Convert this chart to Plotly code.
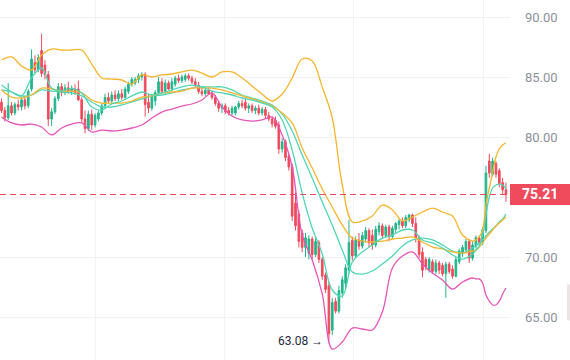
import plotly.graph_objects as go

# ---------------- data ----------------
candle_idx = list(range(152))
opens = [82.9,82.2,81.6,82.6,82.0,82.7,82.5,83.1,82.6,84.0,86.2,85.6,87.2,86.0,85.2,81.5,82.1,83.2,84.2,83.7,
         84.1,83.8,84.0,84.0,83.1,81.5,80.7,81.9,81.0,81.5,82.0,82.6,83.3,83.0,83.5,83.2,83.6,83.3,83.8,84.4,
         84.5,84.8,85.0,85.2,82.9,82.4,83.0,83.7,84.6,83.8,84.5,84.0,84.4,84.9,84.7,84.8,85.1,84.9,84.6,84.3,
         83.8,83.6,83.9,83.6,83.3,82.8,82.4,82.6,82.2,82.0,82.0,82.5,82.8,82.9,82.4,82.6,82.2,82.4,82.0,82.3,
         81.8,81.5,81.4,81.0,79.0,79.6,78.4,77.5,74.5,73.6,72.0,70.8,70.3,71.5,70.2,71.2,69.8,68.5,67.6,63.9,
         66.3,65.5,67.0,67.8,68.9,71.4,70.1,71.4,70.9,71.5,72.2,71.8,71.0,72.1,72.6,71.8,72.5,71.7,72.3,72.7,
         73.0,72.6,73.1,73.5,72.8,71.6,70.4,69.8,68.9,69.6,68.8,69.5,69.3,68.6,69.4,69.0,68.4,69.6,70.3,70.6,
         71.3,69.9,70.9,71.6,71.2,72.2,78.0,76.9,77.8,77.2,76.2,75.6]
highs = [83.2,82.5,84.5,82.9,82.9,83.1,83.3,83.4,84.0,87.3,86.8,86.9,88.6,86.4,85.5,82.4,83.4,84.5,84.5,84.4,
         84.6,84.3,84.4,84.7,83.3,82.2,82.2,82.3,82.0,82.2,82.8,83.6,83.7,83.8,83.9,83.9,84.0,84.2,84.6,85.0,
         85.0,85.3,85.4,85.4,83.6,83.6,83.9,85.0,84.9,84.8,84.7,84.9,85.1,85.2,85.2,85.3,85.3,85.1,84.9,84.6,
         84.2,84.0,84.1,83.9,83.5,83.0,82.8,82.8,82.5,82.6,82.6,83.0,83.1,83.3,82.8,82.8,82.6,82.7,82.5,82.5,
         82.1,81.7,81.7,81.3,79.9,79.8,78.6,77.8,75.4,73.9,72.3,72.0,71.8,71.7,71.6,71.4,70.0,68.7,67.9,66.6,
         66.6,67.6,68.4,69.4,73.1,71.7,71.7,72.0,72.1,72.5,72.4,72.3,72.6,72.9,72.8,72.7,72.7,72.6,72.9,73.2,
         73.3,73.5,73.6,73.6,73.3,71.8,70.8,70.0,70.0,69.8,69.8,69.7,69.5,69.6,69.6,69.3,70.0,70.7,71.0,71.5,
         71.5,71.3,71.8,71.8,72.5,77.6,78.6,78.3,78.0,77.4,76.6,76.2]
lows = [82.0,81.3,81.4,81.8,81.8,82.2,82.2,82.3,82.4,83.8,85.3,85.4,85.0,84.8,80.9,80.9,81.9,83.0,83.4,83.5,
        83.6,83.5,83.5,83.0,81.2,80.3,80.5,80.6,80.8,81.3,81.8,82.4,82.8,82.8,83.0,83.0,83.1,83.1,83.6,84.2,
        84.3,84.5,84.7,81.7,82.0,82.2,82.6,83.5,83.6,83.6,83.9,83.8,84.2,84.5,84.5,84.6,84.7,84.4,84.1,83.6,
        83.4,83.4,83.5,83.1,82.6,82.1,82.0,81.9,81.8,81.8,81.8,82.3,82.4,82.2,82.0,82.0,81.9,81.8,81.8,81.5,
        81.3,80.8,80.7,78.6,78.7,78.0,77.2,73.0,72.2,70.8,70.4,70.0,69.8,69.8,70.0,69.5,68.1,67.0,63.08,63.5,
        65.3,65.3,66.6,67.4,68.6,69.7,69.9,70.6,70.7,71.2,70.8,70.6,70.8,71.8,71.5,71.6,71.3,71.5,72.0,72.3,
        72.4,72.4,72.9,72.5,71.2,69.9,68.3,68.9,68.7,68.6,68.6,68.6,68.4,66.6,68.6,68.2,68.3,69.4,70.0,70.4,
        69.5,69.7,70.7,71.0,71.0,72.0,76.6,76.7,76.6,75.8,75.2,74.6]
closes = [82.2,81.6,82.6,82.0,82.7,82.5,83.1,82.6,83.8,86.5,85.6,86.6,85.3,85.2,81.5,82.1,83.2,84.2,83.7,84.1,
          83.8,84.0,83.7,83.1,81.5,80.7,81.9,81.0,81.8,82.0,82.6,83.3,83.0,83.5,83.2,83.6,83.3,84.0,84.4,84.8,
          84.8,85.1,85.2,82.7,82.4,83.4,83.7,84.6,83.8,84.5,84.0,84.6,84.9,84.7,85.0,85.1,84.9,84.6,84.3,83.8,
          83.6,83.9,83.6,83.3,82.8,82.4,82.6,82.1,82.0,82.4,82.5,82.8,82.6,82.4,82.6,82.2,82.4,82.0,82.3,81.8,
          81.5,81.1,80.9,79.0,79.6,78.3,77.5,73.4,72.6,71.3,70.8,71.6,71.5,70.2,71.3,69.8,68.4,67.3,63.6,66.2,
          65.5,67.2,68.1,69.1,71.2,70.1,71.4,70.9,71.8,72.2,71.2,71.0,72.3,72.6,71.8,72.5,71.7,72.4,72.8,73.0,
          72.6,73.3,73.5,72.8,71.6,70.2,68.9,69.2,69.8,68.8,69.5,68.9,68.6,69.4,68.8,68.4,69.8,70.5,70.8,71.3,
          69.9,71.0,71.6,71.2,72.3,77.0,77.0,78.0,76.9,76.1,75.6,75.21]

line_idx = [0,3,6,9,12,15,18,21,24,27,30,33,36,39,42,45,48,51,54,57,60,63,66,69,72,75,78,81,84,87,
            90,93,96,99,102,105,108,111,114,117,120,123,126,129,132,135,138,141,
            142,143,144,145,146,147,148,149,150,151]
upper_band = [86.42,86.67,85.92,85.58,86.83,87.33,87.25,87.25,87.25,86.08,84.92,84.83,84.75,84.42,85.17,85.0,
              85.17,85.25,85.42,85.58,85.33,85.0,85.42,85.42,84.92,84.25,83.58,83.0,83.58,84.92,86.5,86.33,
              84.17,81.58,76.0,72.92,73.0,73.42,74.33,73.92,73.0,73.33,73.75,74.08,73.75,73.42,71.83,71.33,
              71.42,71.67,72.25,74.33,75.75,77.08,78.33,79.0,79.33,79.5]
middle_band = [83.92,83.33,83.25,83.5,84.08,84.0,83.83,83.83,83.67,83.08,82.83,82.83,82.83,83.0,83.33,83.42,
               83.67,83.75,83.83,84.08,84.08,84.08,83.92,83.67,83.42,83.17,82.92,82.58,82.0,81.17,79.08,77.42,
               75.67,74.17,72.67,71.58,71.33,71.25,71.33,71.5,71.58,71.67,71.25,70.83,70.67,70.42,70.33,70.5,
               70.58,70.83,71.17,71.58,71.92,72.25,72.58,72.83,73.08,73.33]
lower_band = [81.67,81.17,81.0,81.08,80.83,80.17,80.75,81.08,81.17,80.42,80.58,80.5,80.58,80.75,81.0,81.58,
              82.08,82.33,82.58,82.75,83.08,83.67,82.5,81.75,81.42,81.33,81.42,81.67,80.17,77.5,71.83,69.75,
              66.92,62.33,62.92,64.08,64.0,63.92,65.42,69.08,70.08,70.42,69.42,68.67,68.08,67.33,67.92,68.25,
              68.17,68.17,67.83,66.83,66.33,66.0,66.0,66.33,66.92,67.42]
ma_fast = [84.33,83.75,83.42,84.92,85.75,84.08,83.83,84.08,83.67,82.5,82.25,82.75,83.0,83.42,83.75,83.5,
           83.67,83.92,84.17,84.33,84.17,83.83,83.67,83.5,83.25,83.08,82.83,82.5,81.42,78.92,75.33,72.42,
           70.25,67.25,66.75,69.58,70.42,71.0,71.58,71.83,72.25,72.25,71.42,71.17,70.75,70.17,69.83,70.25,
           70.58,70.92,71.83,73.5,75.0,75.75,76.0,76.08,76.0,75.67]
ma_slow = [83.92,83.75,83.42,83.5,83.92,83.83,83.75,83.67,83.42,82.92,82.5,82.5,82.67,82.92,83.17,83.42,
           83.5,83.67,83.92,84.08,84.17,84.17,84.17,83.92,83.5,83.25,83.0,82.67,81.92,80.5,78.5,76.58,
           74.58,72.67,70.58,68.75,68.58,68.83,69.42,70.08,70.92,71.42,71.58,71.42,71.0,70.5,70.33,70.75,
           70.92,71.17,71.42,71.75,72.08,72.33,72.58,72.92,73.17,73.58]

y_ticks = [65, 70, 75, 80, 85, 90]
y_tick_text = ["65.00", "70.00", "", "80.00", "85.00", "90.00"]  # 75.00 sits under the price tag
last_price = 75.21
low_price = 63.08
low_idx = 98

# ---------------- figure ----------------
UP = "#22b58a"
DOWN = "#ef4b5c"
ORANGE = "#f7b52c"
TEAL = "#4fd6b6"
PINK = "#e656b8"

fig = go.Figure()
line_style = dict(mode="lines", line_shape="spline", hoverinfo="skip", showlegend=False)
fig.add_trace(go.Scatter(x=line_idx, y=lower_band, line=dict(color=PINK, width=1.3), **line_style))
fig.add_trace(go.Scatter(x=line_idx, y=ma_slow, line=dict(color=TEAL, width=1.3), **line_style))
fig.add_trace(go.Scatter(x=line_idx, y=middle_band, line=dict(color=ORANGE, width=1.3), **line_style))
fig.add_trace(go.Candlestick(
    x=candle_idx, open=opens, high=highs, low=lows, close=closes,
    increasing=dict(line=dict(color=UP, width=1), fillcolor=UP),
    decreasing=dict(line=dict(color=DOWN, width=1), fillcolor=DOWN),
    whiskerwidth=0, showlegend=False))
fig.add_trace(go.Scatter(x=line_idx, y=ma_fast, line=dict(color=TEAL, width=1.3), **line_style))
fig.add_trace(go.Scatter(x=line_idx, y=upper_band, line=dict(color=ORANGE, width=1.3), **line_style))

# last price dashed line
fig.add_shape(type="line", xref="paper", x0=0, x1=1, y0=last_price, y1=last_price,
              line=dict(color=DOWN, width=1.2, dash="6px,4px"))
# price tag
fig.add_shape(type="rect", xref="paper", x0=1, x1=570/510, y0=last_price-0.87, y1=last_price+0.87,
              fillcolor=DOWN, line=dict(width=0), layer="above")
fig.add_annotation(xref="paper", x=1 + 30/510, y=last_price, text=f"<b>{last_price:.2f}</b>",
                   showarrow=False, font=dict(color="white", size=14, family="Roboto"),
                   xanchor="center", yanchor="middle")
# low marker
fig.add_annotation(x=low_idx, y=low_price, text=f"{low_price:.2f} →", showarrow=False,
                   xanchor="right", yanchor="middle", xshift=-4, yshift=-1,
                   font=dict(color="#1e2840", size=12, family="Roboto"))
# scrollbar hint
fig.add_shape(type="rect", xref="paper", yref="paper", x0=1+57/510, x1=1+60/510, y0=0.11, y1=0.21,
              fillcolor="#ece4e5", line=dict(width=0))

fig.update_layout(
    width=570, height=360,
    margin=dict(l=0, r=60, t=0, b=0),
    paper_bgcolor="white", plot_bgcolor="white",
    xaxis=dict(range=[-0.45, 152.2], rangeslider=dict(visible=False), showticklabels=False,
               tickvals=[28.2, 66.7, 105.4, 144.4], showgrid=True, gridcolor="#f3f3f3",
               zeroline=False, showline=False, fixedrange=True),
    yaxis=dict(side="right", range=[61.4167, 91.4167], tickvals=y_ticks, ticktext=y_tick_text,
               showgrid=True, gridcolor="#f1f1f1", zeroline=False, showline=False,
               ticks="", ticklabelstandoff=14, fixedrange=True,
               tickfont=dict(color="#8c919b", size=13, family="Roboto")),
    font=dict(family="Roboto"),
)

fig.write_html("out.html", config={"displayModeBar": False},
               post_script="document.body.style.margin='0';document.body.style.overflow='hidden';")
